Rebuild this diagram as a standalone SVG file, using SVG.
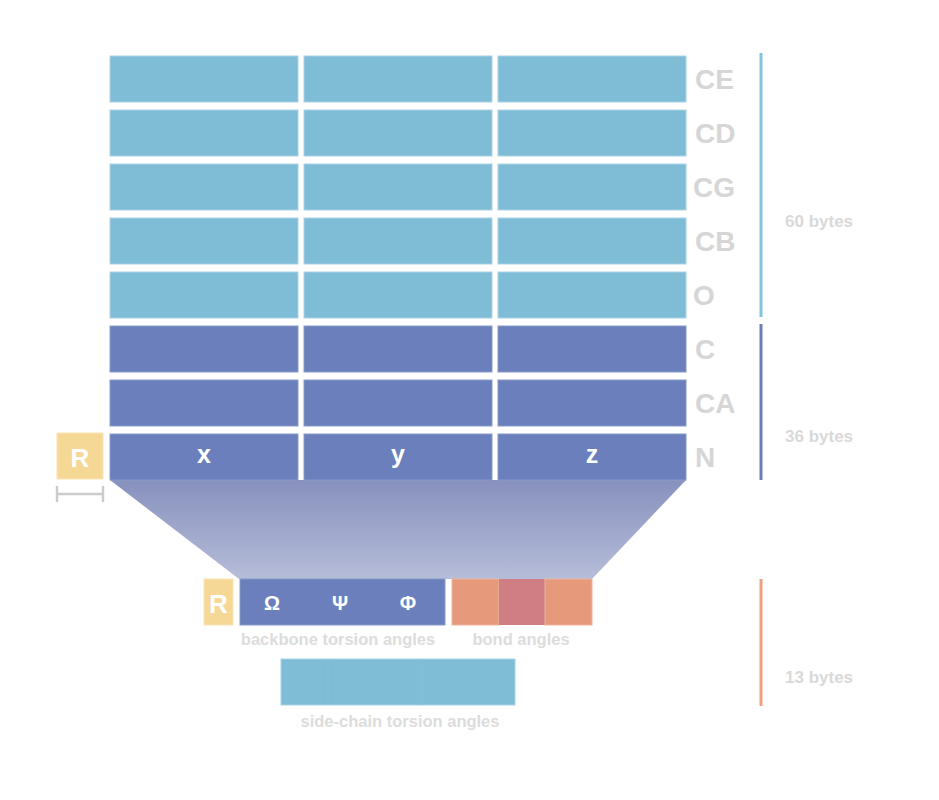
<svg xmlns="http://www.w3.org/2000/svg" width="939" height="800" viewBox="0 0 939 800">
<defs>
<linearGradient id="fan" x1="0" y1="0" x2="0" y2="1">
<stop offset="0" stop-color="#8791bd"/>
<stop offset="1" stop-color="#b6bdd9"/>
</linearGradient>
<style>
.sc{fill:#7fbcd6;stroke:#a9d3e6;stroke-width:1}
.bb{fill:#6a7fbb;stroke:#8a9bcc;stroke-width:1}
.rr{fill:#f5d896;stroke:#f9e5b5;stroke-width:1}
.atom{font-family:"Liberation Sans",Arial,sans-serif;font-weight:bold;font-size:28px;fill:#d6d6d6}
.bytes{font-family:"Liberation Sans",Arial,sans-serif;font-weight:bold;font-size:17px;fill:#d9d9d9}
.cap{font-family:"Liberation Sans",Arial,sans-serif;font-weight:bold;font-size:16.5px;fill:#dcdcdc;text-anchor:middle}
.wt{font-family:"Liberation Sans",Arial,sans-serif;font-weight:bold;fill:#ffffff;text-anchor:middle}
</style>
</defs>
<rect width="939" height="800" fill="#ffffff"/>
<g id="fan-shape"><polygon points="110,480 686,480 592,579 239,579" fill="url(#fan)"/></g>
<g id="row-CE"><rect class="sc" x="110" y="56" width="188" height="46"/><rect class="sc" x="304" y="56" width="188" height="46"/><rect class="sc" x="498" y="56" width="188" height="46"/><text class="atom" x="695" y="89">CE</text></g>
<g id="row-CD"><rect class="sc" x="110" y="110" width="188" height="46"/><rect class="sc" x="304" y="110" width="188" height="46"/><rect class="sc" x="498" y="110" width="188" height="46"/><text class="atom" x="695" y="143">CD</text></g>
<g id="row-CG"><rect class="sc" x="110" y="164" width="188" height="46"/><rect class="sc" x="304" y="164" width="188" height="46"/><rect class="sc" x="498" y="164" width="188" height="46"/><text class="atom" x="693" y="197">CG</text></g>
<g id="row-CB"><rect class="sc" x="110" y="218" width="188" height="46"/><rect class="sc" x="304" y="218" width="188" height="46"/><rect class="sc" x="498" y="218" width="188" height="46"/><text class="atom" x="695" y="251">CB</text></g>
<g id="row-O"><rect class="sc" x="110" y="272" width="188" height="46"/><rect class="sc" x="304" y="272" width="188" height="46"/><rect class="sc" x="498" y="272" width="188" height="46"/><text class="atom" x="693" y="305">O</text></g>
<g id="row-C"><rect class="bb" x="110" y="326" width="188" height="46"/><rect class="bb" x="304" y="326" width="188" height="46"/><rect class="bb" x="498" y="326" width="188" height="46"/><text class="atom" x="695" y="359">C</text></g>
<g id="row-CA"><rect class="bb" x="110" y="380" width="188" height="46"/><rect class="bb" x="304" y="380" width="188" height="46"/><rect class="bb" x="498" y="380" width="188" height="46"/><text class="atom" x="695" y="413">CA</text></g>
<g id="row-N"><rect class="bb" x="110" y="434" width="188" height="46"/><rect class="bb" x="304" y="434" width="188" height="46"/><rect class="bb" x="498" y="434" width="188" height="46"/><text class="atom" x="695" y="467">N</text>
<text class="wt" x="204" y="463" font-size="25">x</text><text class="wt" x="398" y="463" font-size="25">y</text><text class="wt" x="592" y="463" font-size="25">z</text></g>
<g id="R-top"><rect class="rr" x="57" y="433" width="46" height="46"/><text class="wt" x="80" y="467" font-size="26">R</text></g>
<g id="scale-bar" stroke="#cccccc" stroke-width="2.5" fill="none"><line x1="57" y1="494" x2="103" y2="494"/><line x1="57" y1="486" x2="57" y2="502"/><line x1="103" y1="486" x2="103" y2="502"/></g>
<g id="R-bottom"><rect class="rr" x="204" y="579" width="29" height="46"/><text class="wt" x="218.5" y="613" font-size="26">R</text></g>
<g id="backbone-torsion"><rect class="bb" x="240" y="579" width="205" height="46"/>
<text class="wt" x="272" y="610" font-size="20">Ω</text><text class="wt" x="340" y="610" font-size="20">Ψ</text><text class="wt" x="408" y="610" font-size="20">Φ</text>
<text class="cap" x="338" y="645">backbone torsion angles</text></g>
<g id="bond-angles"><rect x="452" y="579" width="47" height="46" fill="#e69a7c" stroke="#eeb49c"/><rect x="499" y="579" width="46" height="46" fill="#cf7f84"/><rect x="545" y="579" width="47" height="46" fill="#e69a7c" stroke="#eeb49c"/>
<text class="cap" x="521" y="645">bond angles</text></g>
<g id="side-chain"><rect class="sc" x="281" y="659" width="234" height="46"/><line x1="328" y1="659" x2="328" y2="705" stroke="#86c0d9"/><line x1="422" y1="659" x2="422" y2="705" stroke="#86c0d9"/>
<text class="cap" x="400" y="727">side-chain torsion angles</text></g>
<g id="connectors" stroke-width="3">
<line x1="761" y1="53" x2="761" y2="317" stroke="#7fc5df"/>
<line x1="761" y1="324" x2="761" y2="480" stroke="#6a7fbb"/>
<line x1="761" y1="579" x2="761" y2="706" stroke="#eea080"/>
</g>
<g id="byte-labels"><text class="bytes" x="785" y="227">60 bytes</text><text class="bytes" x="785" y="442">36 bytes</text><text class="bytes" x="785" y="683">13 bytes</text></g>
</svg>
